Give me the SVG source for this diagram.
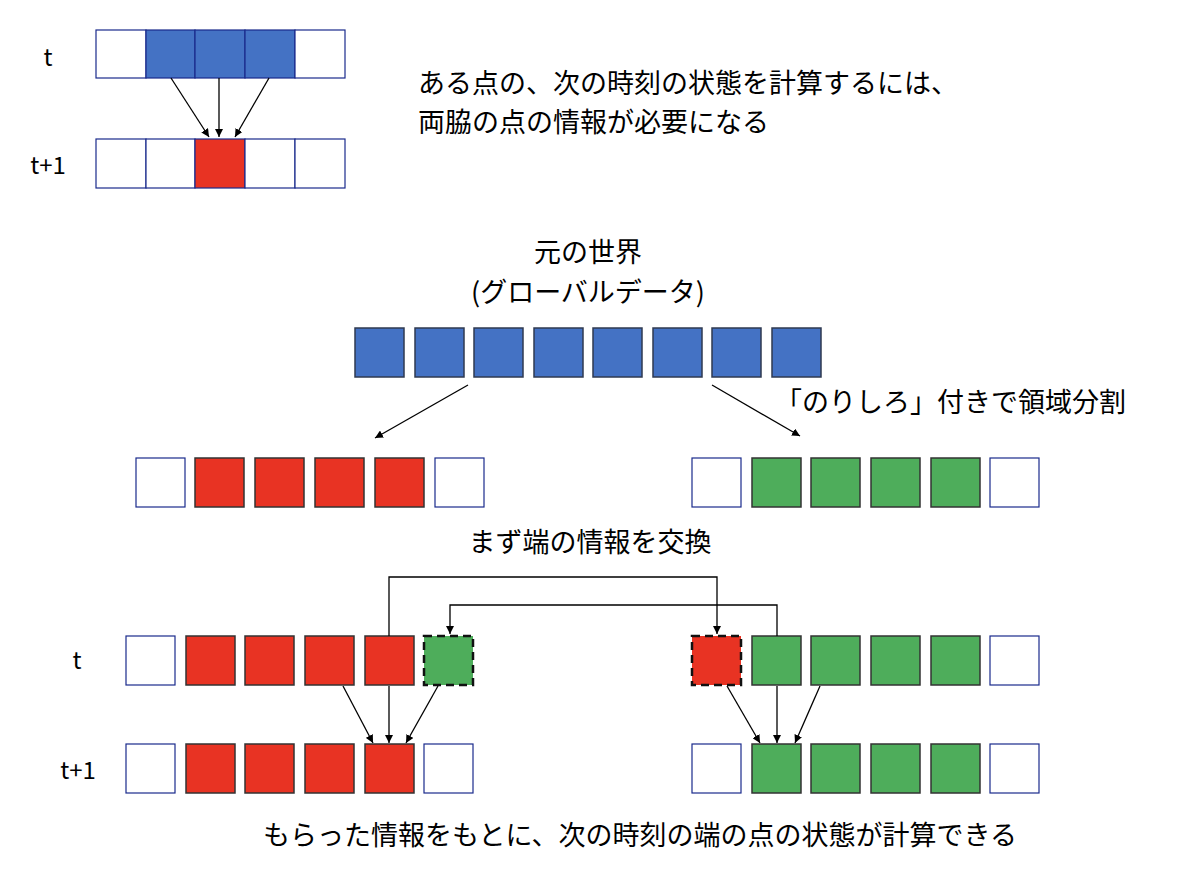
<svg xmlns="http://www.w3.org/2000/svg" width="1200" height="883" viewBox="0 0 1200 883">
<style>
text{font-family:"Noto Sans CJK JP","Noto Sans",sans-serif;fill:#000}
.w{fill:#fff;stroke:#1a2a8c;stroke-width:1.2}
.b{fill:#4472C4;stroke:#1a2a8c;stroke-width:1.2}
.bb{fill:#4472C4;stroke:#2f3a50;stroke-width:1.5}
.r{fill:#E83323;stroke:#333;stroke-width:1.5}
.g{fill:#4EAD5B;stroke:#333;stroke-width:1.5}
.rd{fill:#E83323;stroke:#111;stroke-width:2.5;stroke-dasharray:8 5}
.gd{fill:#4EAD5B;stroke:#111;stroke-width:2.5;stroke-dasharray:8 5}
.c{fill:none;stroke:#000;stroke-width:1.3;marker-end:url(#a)}
</style>
<defs><marker id="a" viewBox="0 0 10 10" refX="10" refY="5" markerWidth="8" markerHeight="8" orient="auto" markerUnits="userSpaceOnUse"><path d="M0,0L10,5L0,10z" fill="#000"/></marker></defs>
<g id="top">
<text x="48" y="66" font-size="24" text-anchor="middle" font-family="Liberation Sans">t</text>
<text x="48" y="174" font-size="24" text-anchor="middle" font-family="Liberation Sans">t+1</text>
<rect class="w" x="96" y="30" width="50" height="48"/><rect class="b" x="146" y="30" width="49" height="48"/><rect class="b" x="195" y="30" width="50" height="48"/><rect class="b" x="245" y="30" width="50" height="48"/><rect class="w" x="295" y="30" width="50" height="48"/>
<rect class="w" x="96" y="139" width="50" height="49"/><rect class="w" x="146" y="139" width="49" height="49"/><rect class="r" x="195" y="139" width="50" height="49" style="stroke:#1a2a8c;stroke-width:1.2"/><rect class="w" x="245" y="139" width="50" height="49"/><rect class="w" x="295" y="139" width="50" height="49"/>
</g>
<g id="desc"><text x="418" y="93" font-size="27">ある点の、次の時刻の状態を計算するには、</text><text x="418" y="132" font-size="27">両脇の点の情報が必要になる</text></g>
<g id="world">
<text x="588" y="262" font-size="27" text-anchor="middle">元の世界</text>
<text x="588" y="302" font-size="27" text-anchor="middle">(グローバルデータ)</text>
<rect class="bb" x="355" y="328" width="49" height="49"/><rect class="bb" x="415" y="328" width="49" height="49"/><rect class="bb" x="474" y="328" width="49" height="49"/><rect class="bb" x="534" y="328" width="49" height="49"/><rect class="bb" x="593" y="328" width="49" height="49"/><rect class="bb" x="653" y="328" width="49" height="49"/><rect class="bb" x="712" y="328" width="49" height="49"/><rect class="bb" x="772" y="328" width="49" height="49"/>
</g>
<text x="775" y="412" font-size="27">「のりしろ」付きで領域分割</text>
<g id="split">
<rect class="w" x="136" y="458" width="49" height="49"/><rect class="r" x="195" y="458" width="49" height="49"/><rect class="r" x="255" y="458" width="49" height="49"/><rect class="r" x="315" y="458" width="49" height="49"/><rect class="r" x="375" y="458" width="49" height="49"/><rect class="w" x="435" y="458" width="49" height="49"/>
<rect class="w" x="692" y="458" width="49" height="49"/><rect class="g" x="752" y="458" width="49" height="49"/><rect class="g" x="811" y="458" width="49" height="49"/><rect class="g" x="871" y="458" width="49" height="49"/><rect class="g" x="931" y="458" width="49" height="49"/><rect class="w" x="990" y="458" width="49" height="49"/>
</g>
<text x="590" y="552" font-size="27" text-anchor="middle">まず端の情報を交換</text>
<g id="step">
<text x="77" y="669" font-size="24" text-anchor="middle" font-family="Liberation Sans">t</text>
<text x="78" y="779" font-size="24" text-anchor="middle" font-family="Liberation Sans">t+1</text>
<rect class="w" x="126" y="636" width="49" height="49"/><rect class="r" x="186" y="636" width="49" height="49"/><rect class="r" x="245" y="636" width="49" height="49"/><rect class="r" x="305" y="636" width="49" height="49"/><rect class="r" x="365" y="636" width="49" height="49"/><rect class="gd" x="424" y="636" width="49" height="49"/>
<rect class="rd" x="692" y="636" width="49" height="49"/><rect class="g" x="752" y="636" width="49" height="49"/><rect class="g" x="811" y="636" width="49" height="49"/><rect class="g" x="871" y="636" width="49" height="49"/><rect class="g" x="931" y="636" width="49" height="49"/><rect class="w" x="990" y="636" width="49" height="49"/>
<rect class="w" x="126" y="744" width="49" height="49"/><rect class="r" x="186" y="744" width="49" height="49"/><rect class="r" x="245" y="744" width="49" height="49"/><rect class="r" x="305" y="744" width="49" height="49"/><rect class="r" x="365" y="744" width="49" height="49"/><rect class="w" x="424" y="744" width="49" height="49"/>
<rect class="w" x="692" y="744" width="49" height="49"/><rect class="g" x="752" y="744" width="49" height="49"/><rect class="g" x="811" y="744" width="49" height="49"/><rect class="g" x="871" y="744" width="49" height="49"/><rect class="g" x="931" y="744" width="49" height="49"/><rect class="w" x="990" y="744" width="49" height="49"/>
</g>
<text x="640" y="845" font-size="27" text-anchor="middle">もらった情報をもとに、次の時刻の端の点の状態が計算できる</text>
<g id="connectors">
<path class="c" d="M171,78L209,137"/><path class="c" d="M219,78L219,137"/><path class="c" d="M269,78L235,137"/>
<path class="c" d="M468,385L375,438"/><path class="c" d="M712,385L800,436"/>
<path class="c" d="M389,636V577H717V634"/><path class="c" d="M777,636V605H450V634"/>
<path class="c" d="M343,686L373,743"/><path class="c" d="M389,686L389,743"/><path class="c" d="M438,686L406,743"/>
<path class="c" d="M727,686L760,743"/><path class="c" d="M777,686L777,743"/><path class="c" d="M820,686L795,743"/>
</g>
</svg>
